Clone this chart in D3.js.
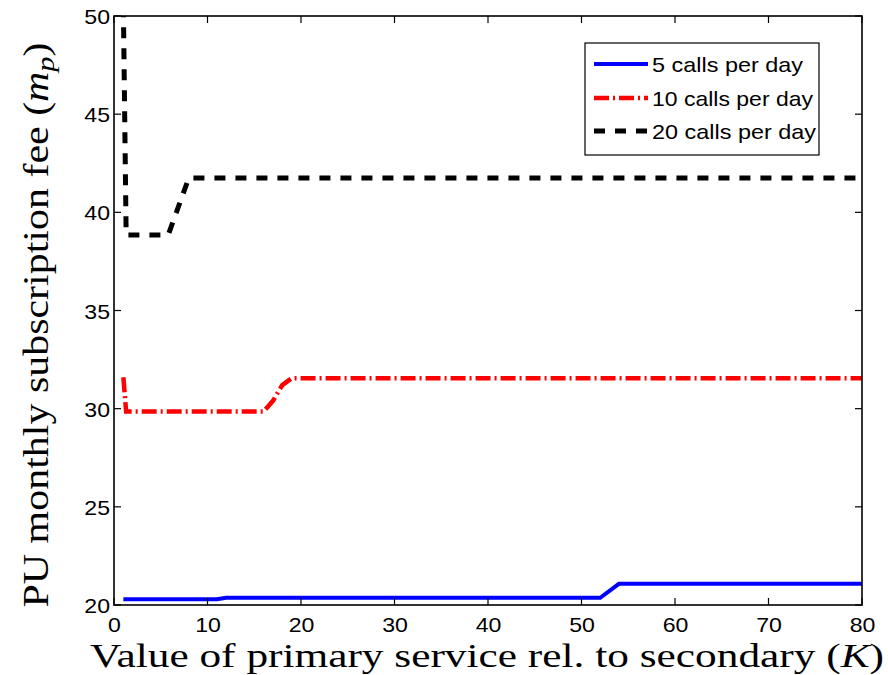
<!DOCTYPE html>
<html><head><meta charset="utf-8">
<script src="https://cdn.jsdelivr.net/npm/d3@7"></script>
<style>body{margin:0;background:#fff}</style>
</head><body>
<svg id="c" width="888" height="675"></svg>
<script>
const seriesNames = ["5 calls per day", "10 calls per day", "20 calls per day"];
const kBlue  = [1, 11, 12, 52, 54, 80];
const vBlue  = [20.29, 20.29, 20.37, 20.37, 21.08, 21.08];
const kRed   = [1, 1.3, 16, 17, 18, 19, 80];
const vRed   = [31.6, 29.85, 29.85, 30.4, 31.2, 31.55, 31.55];
const kBlack = [1, 1.3, 5.8, 8, 80];
const vBlack = [50.5, 38.85, 38.85, 41.75, 41.75];
const xTicks = [0, 10, 20, 30, 40, 50, 60, 70, 80];
const yTicks = [20, 25, 30, 35, 40, 45, 50];

const svg = d3.select("#c");
const L = 114, R = 862, T = 16, B = 605;
const x = d3.scaleLinear().domain([0, 80]).range([L, R]);
const y = d3.scaleLinear().domain([20, 50]).range([B, T]);

function stretch(sel, f) {
  sel.each(function(){
    const w = this.getComputedTextLength();
    d3.select(this).attr("textLength", w*f).attr("lengthAdjust","spacingAndGlyphs");
  });
}

svg.append("defs").append("clipPath").attr("id","clip")
  .append("rect").attr("x",L).attr("y",T).attr("width",R-L).attr("height",B-T);

const styles = [
  {k:kBlue, v:vBlue, color:"#0000ff", w:4, dash:null},
  {k:kRed, v:vRed, color:"#ff0000", w:4.5, dash:"15,4,2,4"},
  {k:kBlack, v:vBlack, color:"#000000", w:5, dash:"11,10"}
];
const line = d3.line().x(d=>x(d[0])).y(d=>y(d[1]));
const g = svg.append("g").attr("clip-path","url(#clip)");
styles.forEach(s=>{
  g.append("path").attr("d", line(s.k.map((k,i)=>[k,s.v[i]])))
   .attr("fill","none").attr("stroke",s.color).attr("stroke-width",s.w)
   .attr("stroke-dasharray",s.dash).attr("stroke-linejoin","miter");
});

svg.append("rect").attr("x",L).attr("y",T).attr("width",R-L).attr("height",B-T)
  .attr("fill","none").attr("stroke","#000").attr("stroke-width",1.6);

const tickFont = "'Liberation Sans', Arial, sans-serif";
const xa = svg.append("g").attr("transform",`translate(0,${B})`)
  .call(d3.axisBottom(x).tickValues(xTicks).tickSize(0).tickPadding(12));
xa.select(".domain").remove();
xa.selectAll("text").attr("font-size",21).attr("font-family",tickFont).attr("fill","#000").call(stretch,1.1);
const ya = svg.append("g").attr("transform",`translate(${L},0)`)
  .call(d3.axisLeft(y).tickValues(yTicks).tickSize(0).tickPadding(4));
ya.select(".domain").remove();
ya.selectAll("text").attr("font-size",21).attr("font-family",tickFont).attr("fill","#000").attr("dy","0.36em").call(stretch,1.1);

xTicks.forEach(t=>{
  svg.append("line").attr("x1",x(t)).attr("x2",x(t)).attr("y1",B).attr("y2",B-7).attr("stroke","#000").attr("stroke-width",1.2);
  svg.append("line").attr("x1",x(t)).attr("x2",x(t)).attr("y1",T).attr("y2",T+7).attr("stroke","#000").attr("stroke-width",1.2);
});
yTicks.forEach(t=>{
  svg.append("line").attr("x1",L).attr("x2",L+7).attr("y1",y(t)).attr("y2",y(t)).attr("stroke","#000").attr("stroke-width",1.2);
  svg.append("line").attr("x1",R).attr("x2",R-7).attr("y1",y(t)).attr("y2",y(t)).attr("stroke","#000").attr("stroke-width",1.2);
});

const serif = "'Liberation Serif', 'Times New Roman', serif";
const xt = svg.append("text").attr("x",487).attr("y",667).attr("text-anchor","middle")
  .attr("font-family",serif).attr("font-size",34).attr("fill","#000")
  .attr("textLength",794).attr("lengthAdjust","spacingAndGlyphs");
xt.append("tspan").text("Value of primary service rel. to secondary (");
xt.append("tspan").attr("font-style","italic").text("K");
xt.append("tspan").text(")");

const yt = svg.append("text").attr("transform",`translate(48,325) rotate(-90)`)
  .attr("text-anchor","middle").attr("font-family",serif).attr("font-size",36).attr("fill","#000")
  .attr("textLength",565).attr("lengthAdjust","spacingAndGlyphs");
yt.append("tspan").text("PU monthly subscription fee (");
yt.append("tspan").attr("font-style","italic").text("m");
yt.append("tspan").attr("font-style","italic").attr("font-size",26).attr("dy",6).text("p");
yt.append("tspan").attr("dy",-6).text(")");

const lg = svg.append("g");
lg.append("rect").attr("x",585).attr("y",43).attr("width",234).attr("height",112)
  .attr("fill","#fff").attr("stroke","#000").attr("stroke-width",1.2);
const rowsY = [64, 98, 131];
const textW = [151, 161, 164];
styles.forEach((s,i)=>{
  lg.append("line").attr("x1",594).attr("x2",648).attr("y1",rowsY[i]).attr("y2",rowsY[i])
    .attr("stroke",s.color).attr("stroke-width",s.w).attr("stroke-dasharray",s.dash);
  lg.append("text").attr("x",652).attr("y",rowsY[i]+8).attr("font-family",tickFont)
    .attr("font-size",21).attr("fill","#000").attr("textLength",textW[i])
    .attr("lengthAdjust","spacingAndGlyphs").text(seriesNames[i]);
});
</script>
</body></html>
